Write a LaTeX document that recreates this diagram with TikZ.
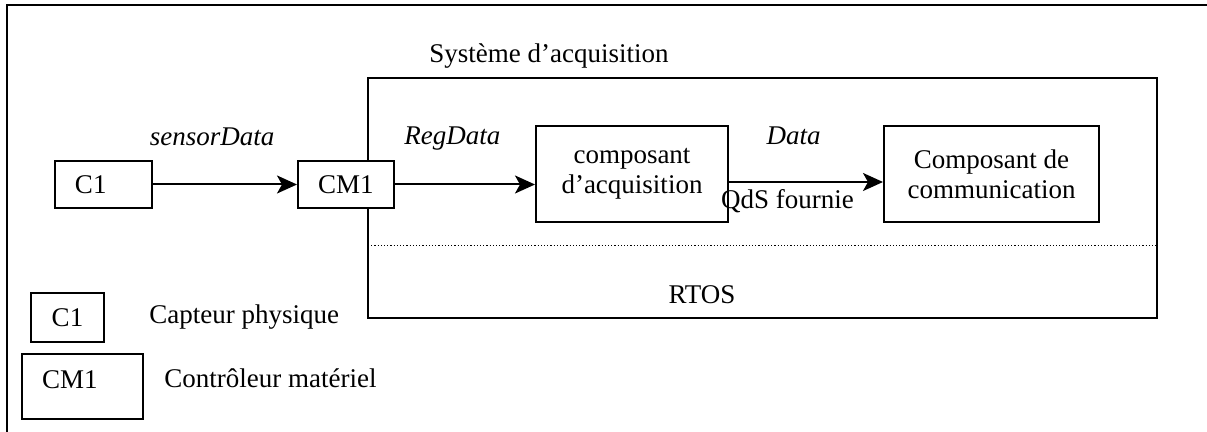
\documentclass[tikz,border=0pt]{standalone}
\usepackage{fontspec}
\setmainfont{Liberation Serif}
\usetikzlibrary{arrows.meta,positioning}
\tikzset{
    boite/.style={
        draw=black,
        fill=white,
        rectangle,
        line width=1pt,
        align=center,
        inner sep=0pt
    },
    capteur/.style={
        boite,
        align=left,
        inner xsep=10pt,
        minimum height=23.5pt
    },
    fleche/.style={
        -{Stealth[length=10pt,width=9pt,inset=2.5pt]},
        line width=1pt,
        color=black
    },
    etiquette/.style={
        font=\fontsize{13.5}{15}\selectfont\itshape,
        inner sep=1pt
    },
    texte/.style={
        inner sep=1pt
    },
    pointille/.style={
        line width=0.5pt,
        dash pattern=on 0.6pt off 1pt
    }
}

\begin{document}
\begin{tikzpicture}[x=0.5pt, y=-0.5pt, font=\fontsize{13.5}{15}\selectfont]
    \useasboundingbox (0,0) rectangle (1207,432);
    % Cadre
    \draw[line width=1pt] (1207,5) -- (7,5) -- (7,432);

    % Systeme d'acquisition
    \node[boite, fill=none, minimum width=394.5pt, minimum height=120pt] (systeme) at (762.5,198) {};
    \node[texte, above right=3pt and 30pt of systeme.north west] (titre) {Système d’acquisition};
    \draw[pointille] (368,246) -- (1157,246);
    \node[texte] (rtos) at (702,295) {RTOS};

    % Capteur et controleur
    \node[capteur, text width=28.5pt] (c1) at (103.5,184.5) {C1};
    \node[capteur, text width=28pt, right=72pt of c1] (cm1) {CM1};

    % Composants
    \node[boite, minimum width=96pt, minimum height=48pt] (acq) at (632,174) {composant\\d’acquisition};
    \node[boite, minimum width=107.5pt, minimum height=48pt] (comm) at (991.5,174) {Composant de\\communication};

    % Fleches
    \draw[fleche] (c1) -- node[etiquette, above=18pt, pos=0.41] {sensorData} (cm1);
    \draw[fleche] (cm1.east) -- node[etiquette, above=15.5pt, pos=0.41] {RegData} (cm1.east -| acq.west);
    \draw[fleche] ([yshift=-4pt]acq.east) -- node[etiquette, above=17pt, pos=0.42] {Data}
        node[texte, below=2pt, pos=0.38] {QdS fournie} ([yshift=-4pt]comm.west);

    % Legende
    \node[boite, minimum width=36.5pt, minimum height=24.5pt] (legc1) at (67.5,317.5) {C1};
    \node[texte, right=21pt of legc1] (legc1txt) {Capteur physique};
    \node[boite, anchor=north west, align=left, text width=40.5pt, inner xsep=10pt,
        inner ysep=4pt, text height=13.5pt, text depth=11pt] (legcm1) at (21,353) {CM1};
    \node[texte, right=9pt of legcm1, yshift=4pt] (legcm1txt) {Contrôleur matériel};
\end{tikzpicture}
\end{document}
